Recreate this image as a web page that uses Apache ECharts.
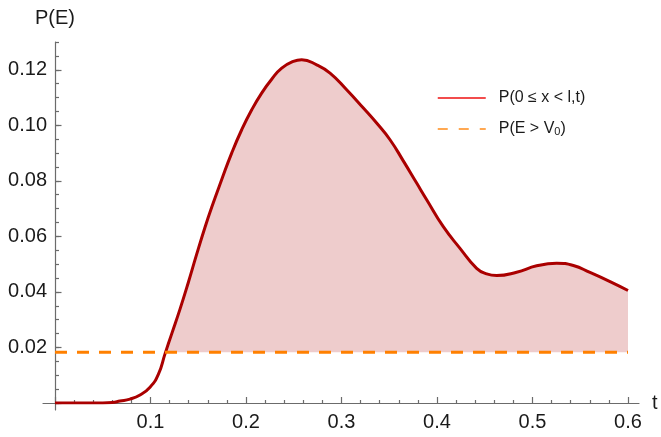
<!DOCTYPE html>
<html><head><meta charset="utf-8">
<script src="https://cdn.jsdelivr.net/npm/echarts@6/dist/echarts.min.js"></script>
<style>html,body{margin:0;padding:0;background:#fff}#c{width:661px;height:437px}</style>
</head><body><div id="c"></div>
<script>
// ---- data ----
const times = [0, 0.04, 0.06, 0.068, 0.0785, 0.089, 0.0995, 0.1082, 0.1152, 0.1222, 0.1309, 0.1396, 0.1483, 0.157, 0.164, 0.1745, 0.185, 0.1955, 0.206, 0.2164, 0.2269, 0.2374, 0.2496, 0.2583, 0.274, 0.288, 0.3054, 0.3229, 0.3368, 0.3508, 0.3647, 0.3787, 0.3892, 0.4066, 0.4241, 0.4415, 0.452, 0.4625, 0.4834, 0.5044, 0.5253, 0.5428, 0.5602, 0.5812, 0.6];
const probInRegion = [0, 0, 0.0002, 0.0007, 0.0014, 0.0029, 0.0057, 0.0103, 0.0177, 0.0249, 0.0338, 0.0434, 0.0535, 0.0632, 0.0704, 0.0804, 0.0900, 0.0984, 0.1056, 0.1116, 0.1166, 0.1206, 0.1230, 0.1236, 0.1218, 0.1188, 0.1128, 0.1062, 0.1008, 0.0948, 0.0872, 0.0792, 0.0732, 0.0635, 0.0557, 0.0485, 0.0465, 0.0459, 0.0471, 0.0494, 0.0503, 0.0495, 0.0470, 0.0437, 0.0405];
const probAboveBarrier = 0.0183;
const barrierSpan = [0, 0.6];
const curveName = 'P(0 ≤ x < l,t)';
const barrierName = 'P(E > V0)';
const xLabelTicks = [0.1, 0.2, 0.3, 0.4, 0.5, 0.6];
const yLabelTicks = [0.02, 0.04, 0.06, 0.08, 0.10, 0.12];

// ---- derived tables ----
const curveData = times.map((t, i) => [t, probInRegion[i]]);
const barrierData = barrierSpan.map(t => [t, probAboveBarrier]);

const FONT = '"Liberation Sans", Arial, sans-serif';
const AXIS_COLOR = '#6b6b6b';
const LABEL_COLOR = '#1a1a1a';
const SMOOTH = 0.5;
const near = (v, arr) => arr.some(a => Math.abs(a - v) < 1e-9);

const chart = echarts.init(document.getElementById('c'), null, {renderer: 'canvas'});
chart.setOption({
  animation: false,
  backgroundColor: '#fff',
  grid: [
    {left: 43, right: 22, top: 42, bottom: 27},   // axis lines (extend past origin)
    {left: 55, right: 33, top: 42, bottom: 34}    // data
  ],
  xAxis: [
    {type: 'value', gridIndex: 0, min: -0.0126, max: 0.6115, z: 3,
     axisLine: {show: true, onZero: true, lineStyle: {color: AXIS_COLOR, width: 1.2}},
     axisTick: {show: false}, axisLabel: {show: false}, splitLine: {show: false},
     name: 't', nameLocation: 'end', nameGap: 13,
     nameTextStyle: {fontFamily: FONT, fontSize: 20, color: LABEL_COLOR}},
    {type: 'value', gridIndex: 1, min: 0, max: 0.6, interval: 0.1, z: 3,
     axisLine: {show: false},
     axisTick: {show: true, inside: true, length: 6, lineStyle: {color: AXIS_COLOR, width: 1.2}},
     minorTick: {show: true, splitNumber: 5, length: 3, lineStyle: {color: AXIS_COLOR, width: 1.2}},
     splitLine: {show: false},
     axisLabel: {margin: 9, fontFamily: FONT, fontSize: 20, color: LABEL_COLOR,
       formatter: v => near(v, xLabelTicks) ? v.toFixed(1) : ''}}
  ],
  yAxis: [
    {type: 'value', gridIndex: 0, min: -0.00252, max: 0.1301, z: 3,
     axisLine: {show: true, onZero: true, lineStyle: {color: AXIS_COLOR, width: 1.2}},
     axisTick: {show: false}, axisLabel: {show: false}, splitLine: {show: false},
     name: 'P(E)', nameLocation: 'end', nameGap: 14,
     nameTextStyle: {fontFamily: FONT, fontSize: 20, color: LABEL_COLOR, align: 'center'}},
    {type: 'value', gridIndex: 1, min: 0, max: 0.13, interval: 0.02, position: 'left', z: 3,
     axisLine: {show: false},
     axisTick: {show: true, inside: true, length: 6.5, customValues: [0, 0.02, 0.04, 0.06, 0.08, 0.10, 0.12],
       lineStyle: {color: AXIS_COLOR, width: 1.2}},
     splitLine: {show: false},
     axisLabel: {margin: 8, fontFamily: FONT, fontSize: 20, color: LABEL_COLOR,
       formatter: v => near(v, yLabelTicks) ? v.toFixed(2) : ''}},
    {type: 'value', gridIndex: 1, min: 0, max: 0.13, interval: 0.005, position: 'left', z: 3,
     axisLine: {show: false},
     axisTick: {show: true, inside: true, length: 4, lineStyle: {color: AXIS_COLOR, width: 1.2}},
     axisLabel: {show: false}, splitLine: {show: false}}
  ],
  legend: {
    left: 437, top: 90, orient: 'vertical', padding: 0,
    itemWidth: 48, itemHeight: 14, itemGap: 12,
    data: [
      {name: curveName, itemStyle: {opacity: 0}, lineStyle: {color: '#ee1111', width: 1.5}},
      {name: barrierName, itemStyle: {opacity: 0}, lineStyle: {color: '#ff8c1a', width: 1.5, type: [10, 11]}}
    ],
    formatter: n => n === barrierName ? '{a|P(E > V}{s|0}{a|)}' : '{a|' + n + '}',
    textStyle: {
      padding: [0, 0, 0, 8],
      rich: {
        a: {fontFamily: FONT, fontSize: 16, color: LABEL_COLOR, lineHeight: 16},
        s: {fontFamily: FONT, fontSize: 11, color: LABEL_COLOR, lineHeight: 16, verticalAlign: 'bottom', padding: [8, 0, 0, 0]}
      }
    }
  },
  series: [
    // pink filling under the curve ...
    {name: 'fill', type: 'line', xAxisIndex: 1, yAxisIndex: 1, data: curveData,
     symbol: 'none', smooth: SMOOTH, lineStyle: {opacity: 0},
     areaStyle: {color: '#eecccc', opacity: 1}, silent: true, z: 1},
    // ... kept only above the barrier level
    {name: 'mask', type: 'line', xAxisIndex: 1, yAxisIndex: 1, data: barrierData,
     symbol: 'none', lineStyle: {opacity: 0},
     areaStyle: {color: '#ffffff', opacity: 1}, silent: true, z: 2},
    {name: curveName, type: 'line', xAxisIndex: 1, yAxisIndex: 1, data: curveData,
     symbol: 'none', smooth: SMOOTH, lineStyle: {color: '#aa0000', width: 3}, color: '#aa0000', z: 4},
    {name: barrierName, type: 'line', xAxisIndex: 1, yAxisIndex: 1, data: barrierData,
     symbol: 'none', lineStyle: {color: '#ff8000', width: 3, type: [12, 10]}, color: '#ff8000', z: 5}
  ]
});
</script>
</body></html>
